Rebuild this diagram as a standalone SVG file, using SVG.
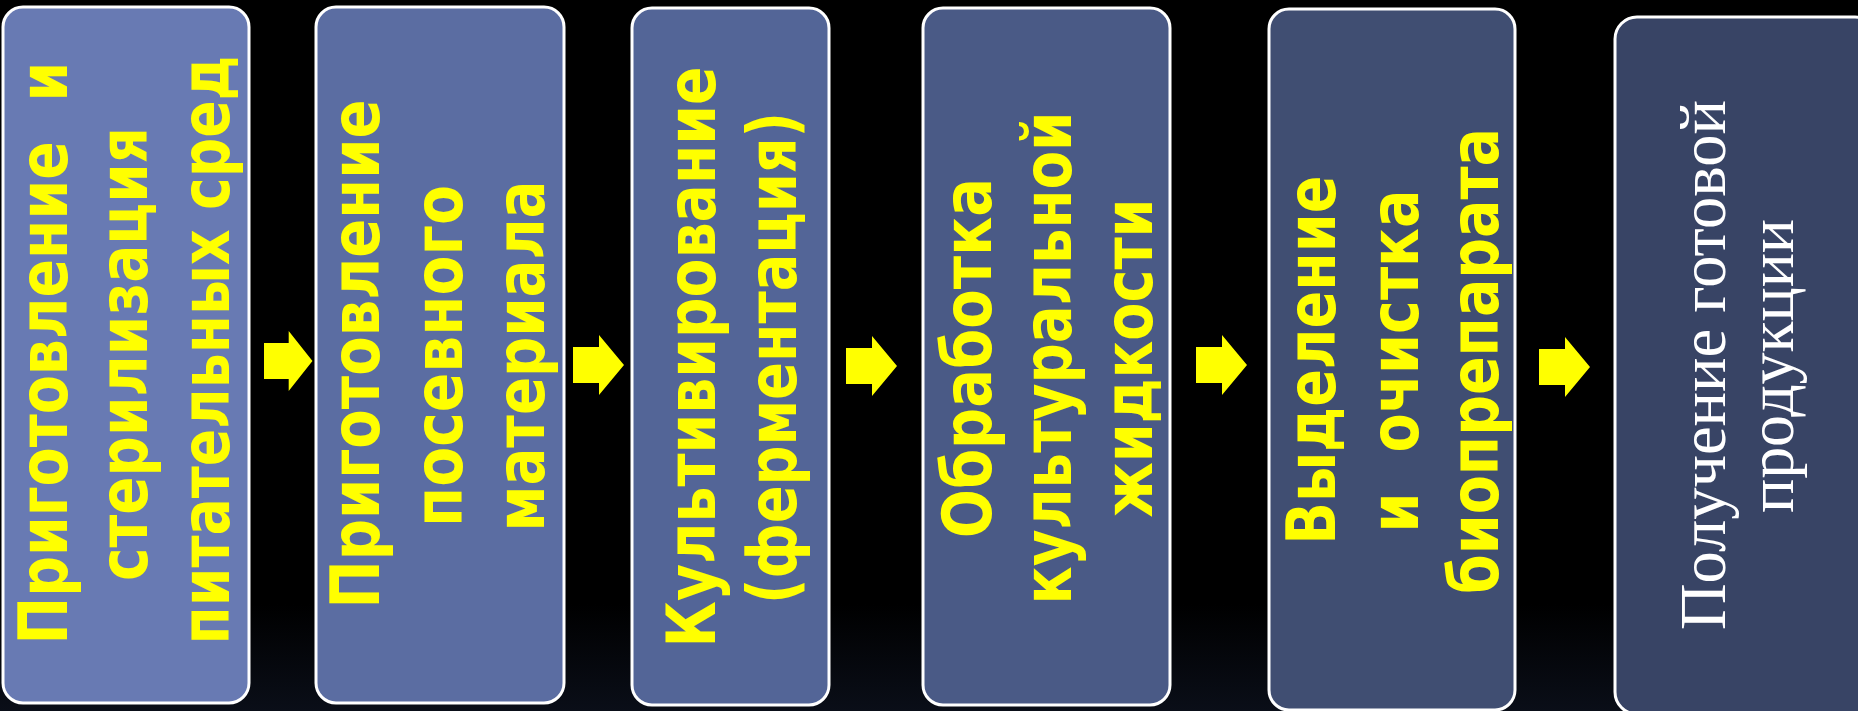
<svg xmlns="http://www.w3.org/2000/svg" xmlns:xlink="http://www.w3.org/1999/xlink" width="1858" height="711" viewBox="0 0 1858 711">
  <style>
    .box { stroke: #ffffff; stroke-width: 3; }
    .lbl { font-family: "DejaVu Sans", Verdana, sans-serif; font-weight: bold; font-size: 68px; fill: #ffff00; text-anchor: middle; }
    .lbl-serif { font-family: "Liberation Serif", "Times New Roman", serif; font-size: 65px; fill: #ffffff; text-anchor: middle; }
    .arrow { fill: #ffff00; }
  </style>
  <defs>
    <linearGradient id="bg" x1="0" y1="0" x2="0" y2="1">
      <stop offset="0" stop-color="#000000"/>
      <stop offset="0.85" stop-color="#000000"/>
      <stop offset="1" stop-color="#0a0e18"/>
    </linearGradient>
    <!-- block arrow: shaft starts at x=0, centred on y=0 -->
    <path id="step-arrow" d="M0,-18 H26 V-30 L51,0 L26,30 V18 H0 Z"/>
  </defs>

  <rect width="1858" height="711" fill="url(#bg)"/>

  <g id="node-1">
    <rect class="box" x="3" y="7" width="246" height="696" rx="20" fill="#687ab3"/>
    <text class="lbl" xml:space="preserve" textLength="583" lengthAdjust="spacingAndGlyphs" transform="translate(67,353) rotate(-90)">Приготовление  и</text>
    <text class="lbl" textLength="454" lengthAdjust="spacingAndGlyphs" transform="translate(147,354) rotate(-90)">стерилизация</text>
    <text class="lbl" textLength="589" lengthAdjust="spacingAndGlyphs" transform="translate(229,350) rotate(-90)">питательных сред</text>
  </g>

  <g id="node-2">
    <rect class="box" x="316" y="7" width="248" height="696" rx="20" fill="#5b6da2"/>
    <text class="lbl" textLength="509" lengthAdjust="spacingAndGlyphs" transform="translate(379,354) rotate(-90)">Приготовление</text>
    <text class="lbl" textLength="342" lengthAdjust="spacingAndGlyphs" transform="translate(462,356) rotate(-90)">посевного</text>
    <text class="lbl" textLength="351" lengthAdjust="spacingAndGlyphs" transform="translate(544,356) rotate(-90)">материала</text>
  </g>

  <g id="node-3">
    <rect class="box" x="632" y="8" width="197" height="697" rx="20" fill="#536597"/>
    <text class="lbl" textLength="581" lengthAdjust="spacingAndGlyphs" transform="translate(715,357) rotate(-90)">Культивирование</text>
    <text class="lbl" textLength="492" lengthAdjust="spacingAndGlyphs" transform="translate(796,358) rotate(-90)">(ферментация)</text>
  </g>

  <g id="node-4">
    <rect class="box" x="923" y="8" width="247" height="697" rx="20" fill="#4a5a86"/>
    <text class="lbl" textLength="360" lengthAdjust="spacingAndGlyphs" transform="translate(991,358) rotate(-90)">Обработка</text>
    <text class="lbl" textLength="493" lengthAdjust="spacingAndGlyphs" transform="translate(1071,358) rotate(-90)">культуральной</text>
    <text class="lbl" textLength="319" lengthAdjust="spacingAndGlyphs" transform="translate(1152,358) rotate(-90)">жидкости</text>
  </g>

  <g id="node-5">
    <rect class="box" x="1269" y="9" width="246" height="701" rx="20" fill="#404e72"/>
    <text class="lbl" textLength="369" lengthAdjust="spacingAndGlyphs" transform="translate(1335,360) rotate(-90)">Выделение</text>
    <text class="lbl" xml:space="preserve" textLength="343" lengthAdjust="spacingAndGlyphs" transform="translate(1418,361) rotate(-90)">и  очистка</text>
    <text class="lbl" textLength="466" lengthAdjust="spacingAndGlyphs" transform="translate(1498,361) rotate(-90)">биопрепарата</text>
  </g>

  <g id="node-6">
    <rect class="box" x="1615" y="17" width="262" height="697" rx="22" fill="#384465"/>
    <text class="lbl-serif" textLength="530" lengthAdjust="spacingAndGlyphs" transform="translate(1725,365) rotate(-90)">Получение готовой</text>
    <text class="lbl-serif" textLength="294" lengthAdjust="spacingAndGlyphs" transform="translate(1793,366) rotate(-90)">продукции</text>
  </g>

  <g id="connectors">
    <use class="arrow" xlink:href="#step-arrow" transform="translate(264,361) scale(0.95,1)"/>
    <use class="arrow" xlink:href="#step-arrow" transform="translate(573,365)"/>
    <use class="arrow" xlink:href="#step-arrow" transform="translate(846,366)"/>
    <use class="arrow" xlink:href="#step-arrow" transform="translate(1196,365)"/>
    <use class="arrow" xlink:href="#step-arrow" transform="translate(1539,367)"/>
  </g>
</svg>
